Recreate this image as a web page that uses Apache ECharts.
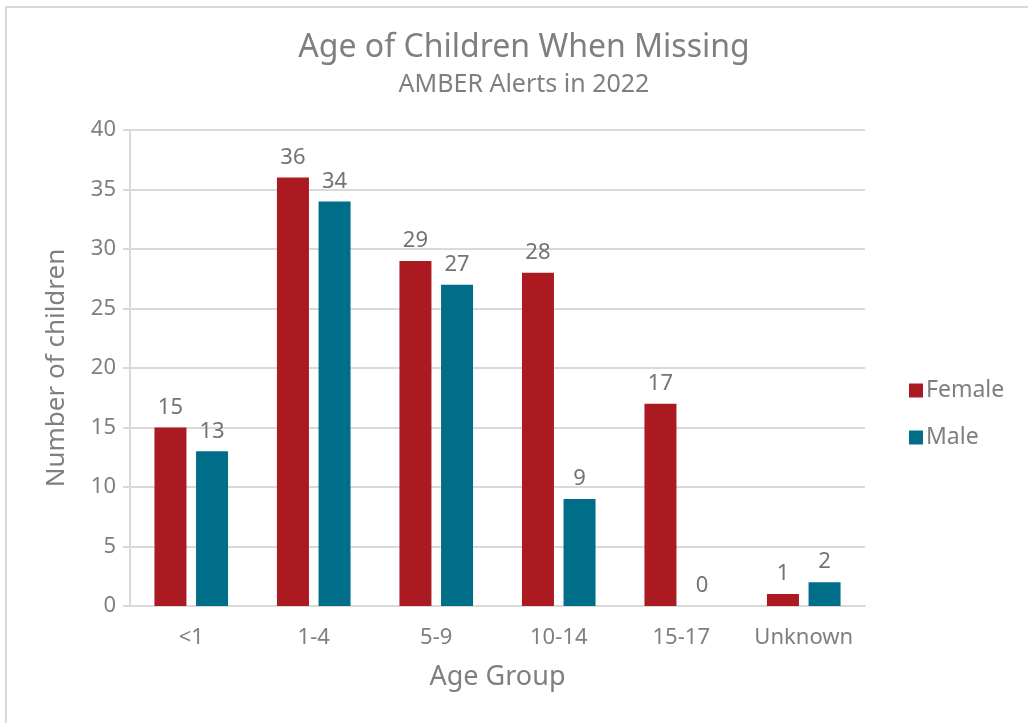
<!DOCTYPE html>
<html>
<head>
<meta charset="utf-8">
<script src="https://cdn.jsdelivr.net/npm/echarts@6/dist/echarts.min.js"></script>
<style>
html,body{margin:0;padding:0;background:#fff;}
#frame{position:absolute;left:5px;top:6px;width:1100px;height:800px;border-left:2px solid #d9d9d9;border-top:2px solid #d9d9d9;box-sizing:border-box;}
#chart{position:absolute;left:0;top:0;width:1028px;height:723px;}
</style>
</head>
<body>
<div id="frame"></div>
<div id="chart"></div>
<script>
const categories = ['<1', '1-4', '5-9', '10-14', '15-17', 'Unknown'];
const female = [15, 36, 29, 28, 17, 1];
const male = [13, 34, 27, 9, 0, 2];
const yTicks = [0, 5, 10, 15, 20, 25, 30, 35, 40];

const FONT = '"Noto Sans", Lato, sans-serif';
const GRAY = '#7f7f7f';
const chart = echarts.init(document.getElementById('chart'));
chart.setOption({
  animation: false,
  textStyle: { fontFamily: FONT },
  title: [
    { text: 'Age of Children When Missing', left: 519, top: 27, textAlign: 'center',
      textStyle: { fontFamily: FONT, fontSize: 32, fontWeight: 'normal', color: GRAY } },
    { text: 'AMBER Alerts in 2022', left: 519, top: 67, textAlign: 'center',
      textStyle: { fontFamily: FONT, fontSize: 25, fontWeight: 'normal', color: GRAY } }
  ],
  legend: {
    orient: 'vertical', left: 904, top: 374, itemWidth: 14, itemHeight: 14, itemGap: 24,
    icon: 'rect',
    textStyle: { fontFamily: FONT, fontSize: 23, color: GRAY, padding: [0, 0, 0, -2] },
    data: ['Female', 'Male']
  },
  grid: { left: 130, right: 163, top: 130, bottom: 117, containLabel: false },
  xAxis: {
    type: 'category', data: categories,
    name: 'Age Group', nameLocation: 'middle', nameGap: 58,
    nameTextStyle: { fontFamily: FONT, fontSize: 27, color: GRAY },
    axisLine: { lineStyle: { color: '#d9d9d9', width: 2 } },
    axisTick: { show: false },
    axisLabel: { interval: 0, fontFamily: FONT, fontSize: 22, color: GRAY, margin: 21 }
  },
  yAxis: {
    type: 'value', min: 0, max: 40, interval: 5,
    name: 'Number of children', nameLocation: 'middle', nameGap: 60,
    nameTextStyle: { fontFamily: FONT, fontSize: 26, color: GRAY },
    axisLine: { show: true, lineStyle: { color: '#d9d9d9', width: 2 } },
    axisTick: { show: true, length: 7, lineStyle: { color: '#d9d9d9', width: 2 } },
    axisLabel: { fontFamily: FONT, fontSize: 22, color: GRAY, margin: 14,
      formatter: v => yTicks.includes(v) ? String(v) : '' },
    splitLine: { lineStyle: { color: '#d9d9d9', width: 2 } }
  },
  series: [
    { name: 'Female', type: 'bar', data: female, barWidth: 32, barGap: '30%',
      itemStyle: { color: '#ab1921' },
      label: { show: true, position: 'top', distance: 9, fontFamily: FONT, fontSize: 22, color: '#737373' } },
    { name: 'Male', type: 'bar', data: male, barWidth: 32,
      itemStyle: { color: '#006e89' },
      label: { show: true, position: 'top', distance: 9, fontFamily: FONT, fontSize: 22, color: '#737373' } }
  ]
});
</script>
</body>
</html>
